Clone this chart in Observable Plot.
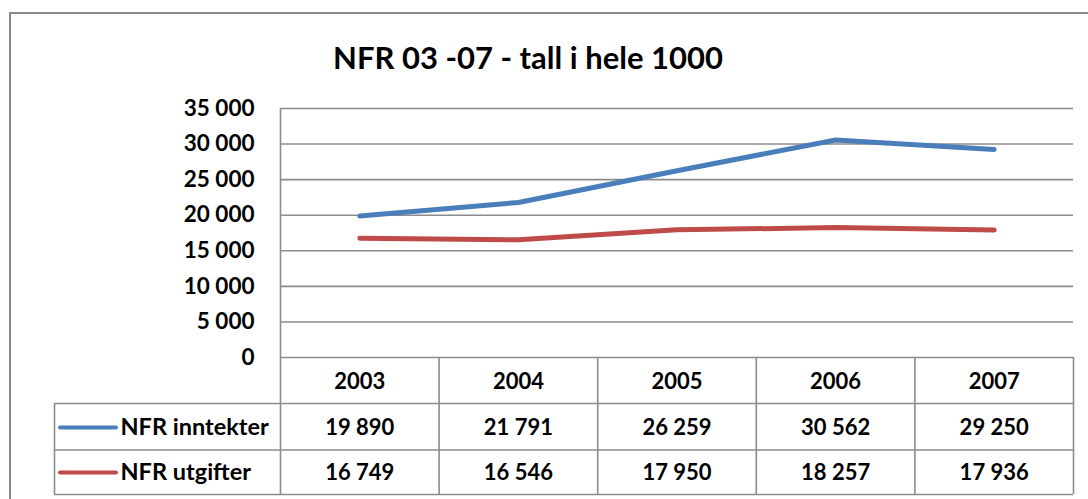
<!DOCTYPE html>
<html>
<head>
<meta charset="utf-8">
<script src="https://cdn.jsdelivr.net/npm/d3@7"></script>
<script src="https://cdn.jsdelivr.net/npm/@observablehq/plot@0.6"></script>
<style>
  html, body { margin: 0; padding: 0; background: #fff; }
  #wrap { position: relative; width: 1088px; height: 499px; overflow: hidden; font-family: Lato, "Open Sans", sans-serif; }
  #border { position: absolute; left: 9px; top: 12px; width: 1100px; height: 520px; border: 2px solid #8a8a8a; box-sizing: border-box; }
  #title { position: absolute; left: 178px; width: 700px; top: 38px; text-align: center; font-weight: 700; font-size: 31px; color: #000; }
  #chart { position: absolute; left: 0; top: 0; }
</style>
</head>
<body>
<div id="wrap">
  <div id="border"></div>
  <div id="title">NFR 03 -07 - tall i hele 1000</div>
  <div id="chart"></div>
</div>
<script>
const years = [2003, 2004, 2005, 2006, 2007];
const inntekter = [19890, 21791, 26259, 30562, 29250];
const utgifter = [16749, 16546, 17950, 18257, 17936];
const seriesNames = ["NFR inntekter", "NFR utgifter"];
const seriesColors = ["#4a7ebb", "#be4b48"];
const yTicks = [0, 5000, 10000, 15000, 20000, 25000, 30000, 35000];

const fmt = d3.formatLocale({decimal: ",", thousands: " ", grouping: [3], currency: ["", ""]}).format(",");

const rows = [];
years.forEach((yr, i) => {
  rows.push({year: yr, value: inntekter[i], series: seriesNames[0]});
  rows.push({year: yr, value: utgifter[i], series: seriesNames[1]});
});
const bounds = [years[0] - 0.5, ...years.map(y => y + 0.5)];

const W = 1088, H = 499, mL = 280, mR = 15, mT = 108, mB = 142;
const plotH = H - mT - mB; // 249
const gridColor = "#8c8c8c";
const fontStyle = {fontFamily: "Lato, 'Open Sans', sans-serif", fontWeight: 700, fill: "#000"};
const cellFont = 22;

const chart = Plot.plot({
  width: W, height: H,
  marginLeft: mL, marginRight: mR, marginTop: mT, marginBottom: mB,
  style: {fontFamily: "Lato, sans-serif", background: "transparent", overflow: "visible"},
  x: {domain: [years[0] - 0.5, years[years.length - 1] + 0.5], axis: null},
  y: {domain: [0, 35000], ticks: yTicks, label: null},
  color: {domain: seriesNames, range: seriesColors},
  marks: [
    // horizontal gridlines
    Plot.ruleY(yTicks, {stroke: gridColor, strokeWidth: 1.6}),
    // y axis
    Plot.axisY(yTicks, {tickSize: 0, tickPadding: 26, tickFormat: fmt, fontSize: 22.5, fontWeight: 700, fill: "#000", anchor: "left", label: null}),
    // vertical line along y axis down through the table
    Plot.ruleX([bounds[0]], {stroke: gridColor, strokeWidth: 1.6, insetBottom: -137}),
    // table column separators
    Plot.ruleX(bounds.slice(1), {stroke: gridColor, strokeWidth: 1.6, insetTop: plotH, insetBottom: -137}),
    // legend column left edge
    Plot.ruleX([bounds[0]], {stroke: gridColor, strokeWidth: 1.6, dx: -226, insetTop: plotH + 46, insetBottom: -137}),
    // table row lines
    Plot.ruleY([0], {stroke: gridColor, strokeWidth: 1.6, dy: 46, insetLeft: -226}),
    Plot.ruleY([0], {stroke: gridColor, strokeWidth: 1.6, dy: 92.5, insetLeft: -226}),
    Plot.ruleY([0], {stroke: gridColor, strokeWidth: 1.6, dy: 137, insetLeft: -226}),
    // header row (years)
    Plot.text(years, {x: d => d, y: 0, dy: 24, text: d => String(d), fontSize: cellFont, ...fontStyle}),
    // value rows
    Plot.text(rows, {x: "year", y: 0, text: d => fmt(d.value), fontSize: cellFont, ...fontStyle,
      filter: d => d.series === seriesNames[0], dy: 70}),
    Plot.text(rows, {x: "year", y: 0, text: d => fmt(d.value), fontSize: cellFont, ...fontStyle,
      filter: d => d.series === seriesNames[1], dy: 115}),
    // legend keys
    Plot.ruleY([0], {stroke: seriesColors[0], strokeWidth: 4, strokeLinecap: "round", dy: 70, insetLeft: -220, insetRight: (W - mR - 116)}),
    Plot.ruleY([0], {stroke: seriesColors[1], strokeWidth: 4, strokeLinecap: "round", dy: 115, insetLeft: -220, insetRight: (W - mR - 116)}),
    Plot.text([seriesNames[0]], {x: bounds[0], y: 0, dx: -160, dy: 70, text: d => d, textAnchor: "start", fontSize: 23.5, ...fontStyle}),
    Plot.text([seriesNames[1]], {x: bounds[0], y: 0, dx: -160, dy: 115, text: d => d, textAnchor: "start", fontSize: 23.5, ...fontStyle}),
    // data lines
    Plot.line(rows, {x: "year", y: "value", z: "series", stroke: "series", strokeWidth: 5, strokeLinecap: "round", strokeLinejoin: "round"})
  ]
});
document.getElementById("chart").appendChild(chart);
</script>
</body>
</html>
